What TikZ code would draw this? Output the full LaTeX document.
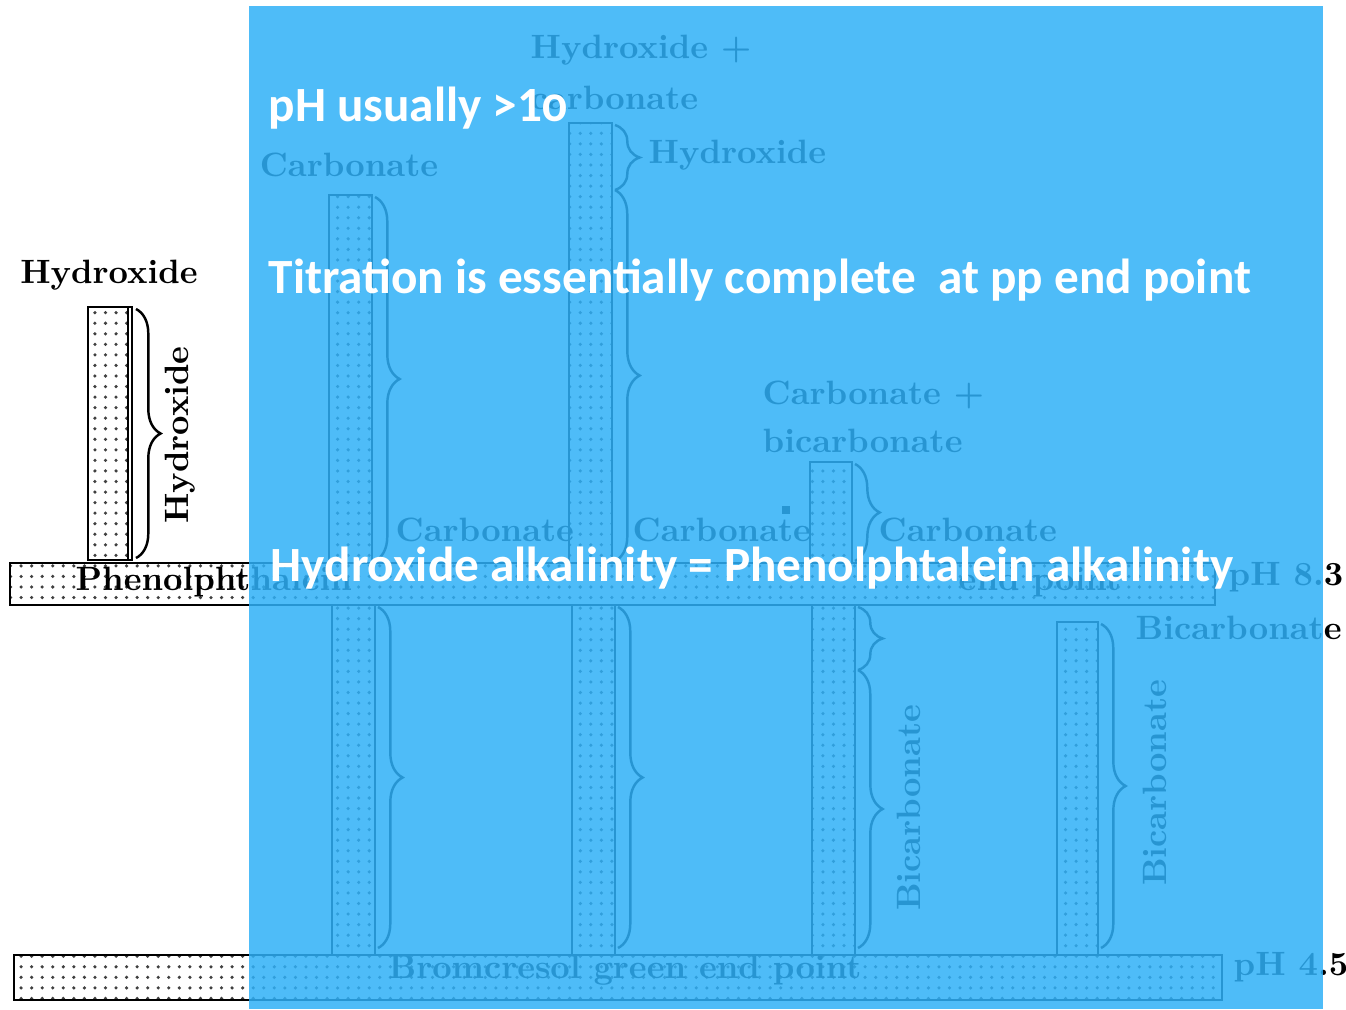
\documentclass[tikz,border=0pt]{standalone}
\usepackage{fontspec}
\newfontfamily\slidefont{Carlito}
\usetikzlibrary{patterns,decorations.pathreplacing}
\definecolor{slideblue}{RGB}{47,176,247}

\tikzset{
  bar/.style={draw, line width=0.8pt, pattern=dots, pattern color=black!75},
  lbl/.style={font=\fontsize{9.6}{11}\selectfont\bfseries, inner sep=0pt},
  vlbl/.style={lbl, rotate=90},
  curly/.style={decorate, decoration={brace, amplitude=7pt}, line width=0.7pt},
  slide/.style={font=\slidefont\fontsize{14}{16}\selectfont\bfseries, text=white,
    anchor=base west, inner sep=0pt},
}

\begin{document}
\begin{tikzpicture}[x=0.01cm, y=-0.01cm]
\useasboundingbox (0,0) rectangle (1346,1009);

% end point bars
\draw[bar] (10,563) rectangle (1215,605);
\draw[bar] (14,955) rectangle (1222,1000);

% hydroxide only
\draw[bar] (88,307) rectangle (132,560);
\draw[line width=0.8pt] (128,307) -- (128,560);
\draw[curly] (136,309) coordinate (ha) -- (136,558) coordinate (hb);

% carbonate only
\draw[bar] (329,195) rectangle (372,563);
\draw[bar] (332,605) rectangle (375,955);
\draw[curly] (375,197) coordinate (ca) -- (375,561) coordinate (cb);
\draw[curly] (378,607) coordinate (cc) -- (378,948) coordinate (cd);

% hydroxide + carbonate
\draw[bar] (569,123) rectangle (612,563);
\draw[bar] (572,605) rectangle (615,955);
\draw[curly] (615,125) coordinate (da) -- (615,190) coordinate (db);
\draw[curly] (db) -- (615,561) coordinate (dc);
\draw[curly] (618,607) coordinate (dd) -- (618,948) coordinate (de);

% carbonate + bicarbonate
\draw[bar] (810,462) rectangle (852,563);
\draw[bar] (812,605) rectangle (855,955);
\draw[curly] (855,464) coordinate (ea) -- (855,561) coordinate (eb);
\draw[curly] (858,607) coordinate (ec) -- (858,670) coordinate (ed);
\draw[curly] (ed) -- (858,948) coordinate (ee);
\fill (782,506) rectangle (790,514);

% bicarbonate only
\draw[bar] (1057,622) rectangle (1098,955);
\draw[curly] (1101,624) coordinate (fa) -- (1101,948) coordinate (fb);

% labels
\node[lbl] (hydtop) at (109,275) {Hydroxide};
\node[vlbl] (hydside) at (180,435) {Hydroxide};
\node[lbl] (carbtop) at (349,165) {Carbonate};
\node[lbl, anchor=west] (hcone) at (530,50) {Hydroxide +};
\node[lbl, anchor=west] (hctwo) at (530,98) {carbonate};
\node[lbl, anchor=west] (hcside) at (648,155) {Hydroxide};
\node[lbl, anchor=west] (cbone) at (762,395) {Carbonate +};
\node[lbl, anchor=west] (cbtwo) at (762,441) {bicarbonate};
\node[lbl, anchor=west] (carba) at (395,530) {Carbonate};
\node[lbl, anchor=west] (carbb) at (632,530) {Carbonate};
\node[lbl, anchor=west] (carbc) at (878,530) {Carbonate};
\node[lbl, anchor=west] (ppname) at (75,582) {Phenolphthalein};
\node[lbl, anchor=west] (ppend) at (958,582) {end point};
\node[lbl, anchor=west] (pphigh) at (1228,577) {pH 8.3};
\node[lbl, anchor=west] (bicarbtop) at (1135,628) {Bicarbonate};
\node[vlbl] (bicarba) at (909,808) {Bicarbonate};
\node[vlbl] (bicarbb) at (1155,783) {Bicarbonate};
\node[lbl, anchor=west] (bgname) at (388,970) {Bromcresol green end point};
\node[lbl, anchor=west] (phlow) at (1233,967) {pH 4.5};

% slide overlay
\fill[slideblue, fill opacity=0.85] (249,6) rectangle (1323,1009);
\node[slide] (note1) at (268,121) {pH usually >1\addfontfeatures{Numbers=OldStyle}0};
\node[slide] (note2) at (268,293) {Titration is essentially complete~~at pp end point};
\node[slide] (note3) at (270,581) {Hydroxide alkalinity = Phenolphtalein alkalinity};
\end{tikzpicture}
\end{document}
